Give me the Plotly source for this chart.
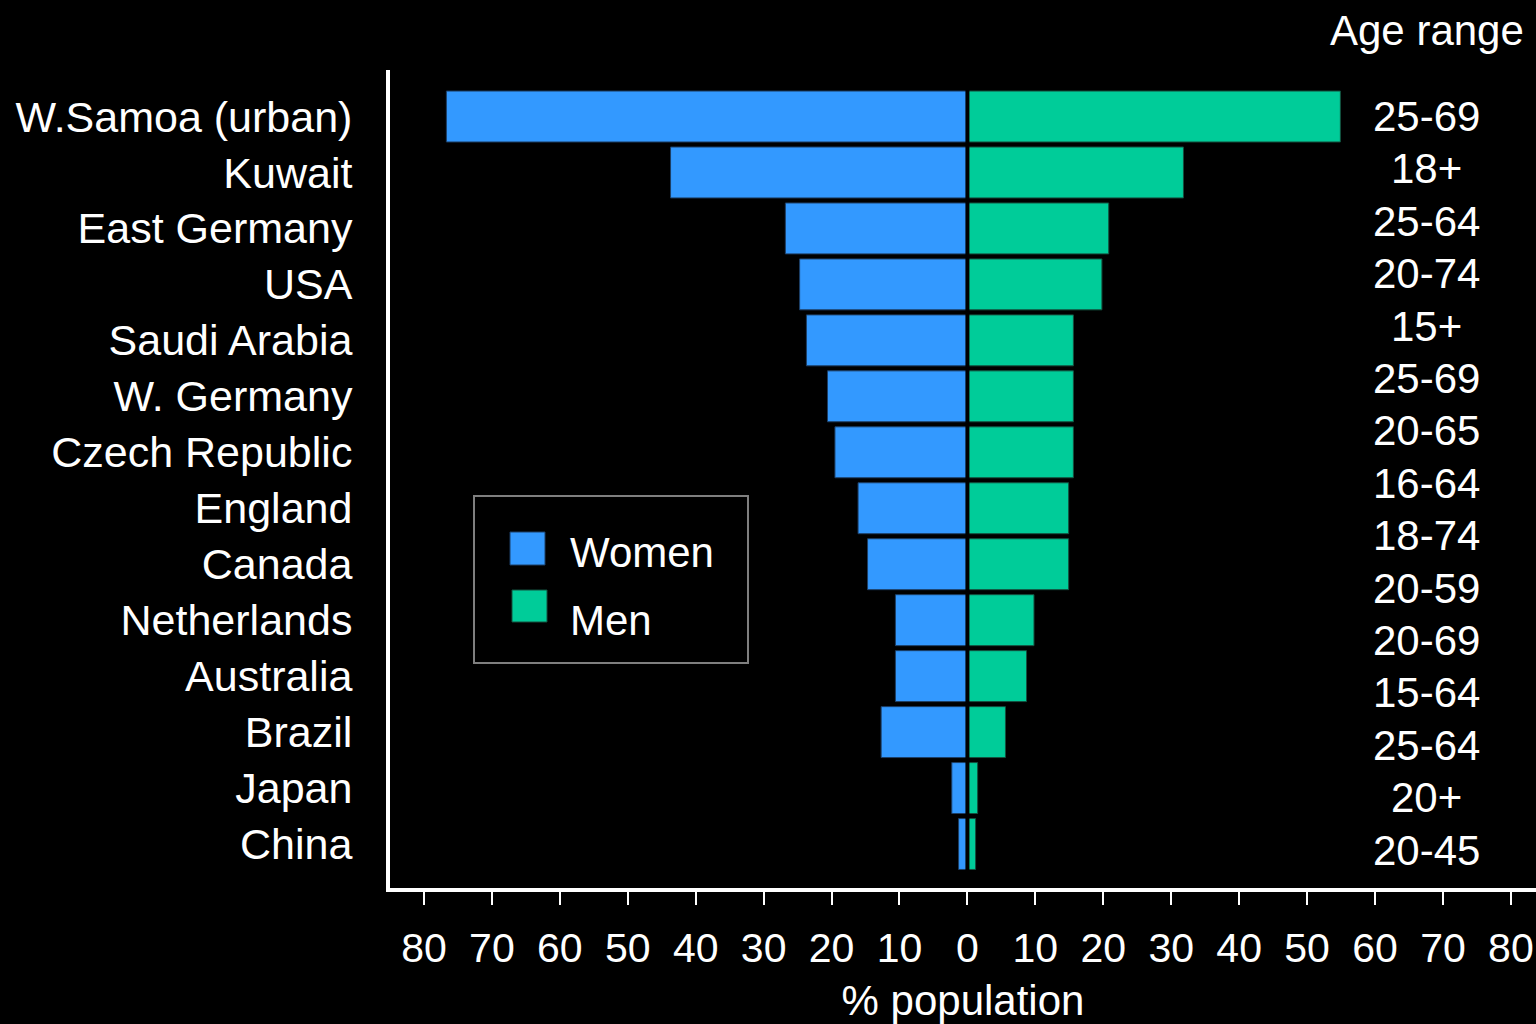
import plotly.graph_objects as go

# Share of population (%) by country, women drawn to the left, men to the right
countries = [
    "W.Samoa (urban)", "Kuwait", "East Germany", "USA", "Saudi Arabia",
    "W. Germany", "Czech Republic", "England", "Canada", "Netherlands",
    "Australia", "Brazil", "Japan", "China",
]
women = [76.7, 43.7, 26.8, 24.7, 23.7, 20.6, 19.5, 16.1, 14.7, 10.6, 10.6, 12.7, 2.3, 1.3]
men = [54.9, 31.8, 20.8, 19.8, 15.6, 15.6, 15.6, 14.9, 14.9, 9.8, 8.7, 5.6, 1.5, 1.2]

age_ranges = [
    "25-69", "18+", "25-64", "20-74", "15+", "25-69", "20-65", "16-64",
    "18-74", "20-59", "20-69", "15-64", "25-64", "20+", "20-45",
]

tick_values = list(range(-80, 81, 10))
tick_labels = [str(abs(v)) for v in tick_values]

# Page geometry (pixels)
W, H = 1536, 1024
L, R, T, B = 390, 0, 70, 136
PW, PH = W - L - R, H - T - B

FONT = "Liberation Sans, Arial, sans-serif"
BLUE = "#3399ff"
GREEN = "#00cc99"


def px_x(px):
    return (px - L) / PW


def px_y(py):
    return (H - B - py) / PH


fig = go.Figure()
fig.add_trace(go.Bar(
    name="Women", y=countries, x=[-v for v in women], customdata=women,
    orientation="h", marker=dict(color=BLUE, line=dict(color="#1d3f66", width=1)),
    hovertemplate="%{y}<br>Women: %{customdata}%<extra></extra>",
))
fig.add_trace(go.Bar(
    name="Men", y=countries, x=men,
    orientation="h", marker=dict(color=GREEN, line=dict(color="#14513f", width=1)),
    hovertemplate="%{y}<br>Men: %{x}%<extra></extra>",
))

shapes = [
    # black divider between the two halves at zero
    dict(type="line", xref="x", yref="paper", x0=0, x1=0, y0=0.015, y1=0.985,
         line=dict(color="black", width=4), layer="above"),
    # legend frame
    dict(type="rect", xref="paper", yref="paper",
         x0=px_x(474), x1=px_x(748), y0=px_y(663), y1=px_y(496),
         line=dict(color="#7f7f7f", width=2), fillcolor="rgba(0,0,0,0)", layer="above"),
    # legend swatches
    dict(type="rect", xref="paper", yref="paper",
         x0=px_x(510), x1=px_x(545), y0=px_y(565), y1=px_y(532),
         line=dict(color="#1d3f66", width=1), fillcolor=BLUE, layer="above"),
    dict(type="rect", xref="paper", yref="paper",
         x0=px_x(512), x1=px_x(547), y0=px_y(622), y1=px_y(590),
         line=dict(color="#14513f", width=1), fillcolor=GREEN, layer="above"),
]

annotations = [
    dict(text="Women", xref="paper", yref="paper", x=px_x(568), y=px_y(552),
         xanchor="left", yanchor="middle", showarrow=False,
         font=dict(family=FONT, size=42, color="white")),
    dict(text="Men", xref="paper", yref="paper", x=px_x(568), y=px_y(620),
         xanchor="left", yanchor="middle", showarrow=False,
         font=dict(family=FONT, size=42, color="white")),
    dict(text="Age range", xref="paper", yref="paper", x=px_x(1427), y=px_y(30),
         xanchor="center", yanchor="middle", showarrow=False,
         font=dict(family=FONT, size=42, color="white")),
]

# age-range column on the right, evenly spaced down the chart
top_py, bot_py = 116.5, 850.0
step = (bot_py - top_py) / (len(age_ranges) - 1)
for i, label in enumerate(age_ranges):
    annotations.append(dict(
        text=label, xref="paper", yref="paper", x=px_x(1426), y=px_y(top_py + i * step),
        xanchor="center", yanchor="middle", showarrow=False,
        font=dict(family=FONT, size=42, color="white"),
    ))

n = len(countries)
fig.update_layout(
    width=W, height=H,
    margin=dict(l=L, r=R, t=T, b=B, pad=0),
    paper_bgcolor="black", plot_bgcolor="black",
    barmode="relative", bargap=0.09,
    showlegend=False,
    font=dict(family=FONT, color="white"),
    shapes=shapes, annotations=annotations,
    xaxis=dict(
        range=[-85.0, 83.7], tickvals=tick_values, ticktext=tick_labels,
        showgrid=False, zeroline=False,
        showline=True, linecolor="white", linewidth=4,
        ticks="outside", ticklen=13, tickwidth=2, tickcolor="white",
        tickfont=dict(family=FONT, size=41, color="white"),
        ticklabelstandoff=8,
        title=dict(text="% population", font=dict(family=FONT, size=42, color="white"),
                   standoff=19),
        fixedrange=True,
    ),
    yaxis=dict(
        type="category", categoryorder="array", categoryarray=countries[::-1],
        range=[-0.786, n - 1 + 0.831],
        showgrid=False, zeroline=False,
        showline=True, linecolor="white", linewidth=4,
        ticks="", ticklabelstandoff=25,
        tickfont=dict(family=FONT, size=43, color="white"),
        fixedrange=True,
    ),
)

fig.write_html("out.html")
